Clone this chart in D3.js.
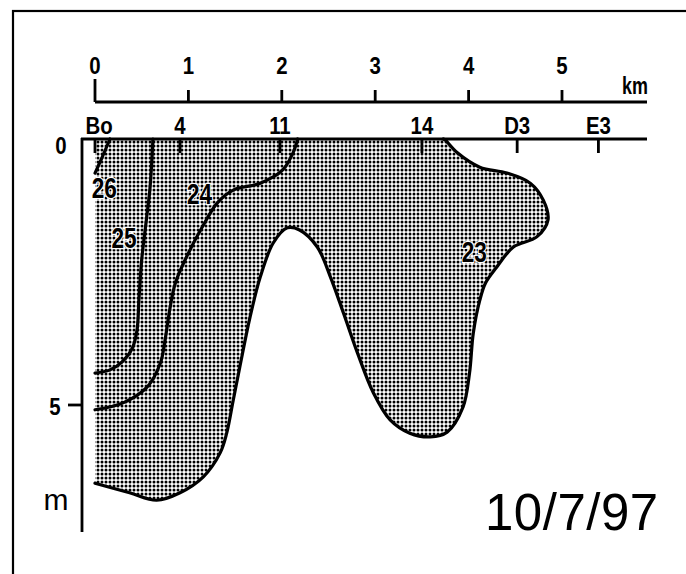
<!DOCTYPE html>
<html>
<head>
<meta charset="utf-8">
<script src="https://cdn.jsdelivr.net/npm/d3@7"></script>
<style>
  html, body { margin: 0; padding: 0; background: #fff; }
  svg { display: block; }
  text { font-family: "Liberation Sans", Arial, sans-serif; }
</style>
</head>
<body>
<div id="chart"></div>
<script>
const kmTicks = [0, 1, 2, 3, 4, 5];
const stationNames = ["Bo", "4", "11", "14", "D3", "E3"];
const stationKm = [0, 0.91, 1.98, 3.50, 4.52, 5.39];
const depthTicks = [0, 5];

// isotherms as [km, depth m]
const contour23 = [
  [0, 6.47], [0.37, 6.65], [0.66, 6.79], [0.91, 6.65], [1.16, 6.35], [1.34, 5.90],
  [1.41, 5.53], [1.48, 4.91], [1.55, 4.29], [1.66, 3.35], [1.77, 2.59], [1.91, 1.95],
  [2.06, 1.67], [2.19, 1.71], [2.38, 2.03], [2.52, 2.59], [2.66, 3.27], [2.81, 4.02],
  [2.98, 4.77], [3.16, 5.28], [3.37, 5.53], [3.59, 5.60], [3.77, 5.51], [3.94, 5.04],
  [4.01, 4.40], [4.05, 3.65], [4.12, 3.03], [4.18, 2.71], [4.30, 2.41], [4.48, 2.03],
  [4.73, 1.84], [4.85, 1.52], [4.80, 1.15], [4.66, 0.83], [4.41, 0.64], [4.12, 0.53],
  [3.88, 0.26], [3.75, 0.02], [3.73, 0]
];
const contour24 = [
  [2.17, 0], [2.12, 0.26], [2.01, 0.58], [1.77, 0.83], [1.48, 0.96], [1.31, 1.20],
  [1.15, 1.65], [0.99, 2.18], [0.86, 2.71], [0.80, 3.21], [0.75, 3.78], [0.70, 4.21],
  [0.56, 4.66], [0.30, 4.96], [0, 5.09]
];
const contour25 = [
  [0.62, 0], [0.59, 0.90], [0.55, 1.52], [0.50, 2.27], [0.47, 3.03], [0.45, 3.59],
  [0.40, 3.93], [0.29, 4.19], [0.16, 4.34], [0, 4.40]
];
const contour26 = [[0.16, 0], [0.08, 0.33], [0, 0.64]];

const contourLabels = ["26", "25", "24", "23"];
const contourLabelPos = [[0.10, 0.92], [0.31, 1.86], [1.12, 1.02], [4.06, 2.12]];

const dateLabel = "10/7/97";

const W = 686, H = 574;
const x = d3.scaleLinear().domain([0, 5]).range([95, 562]);
const y = d3.scaleLinear().domain([0, 5]).range([139, 405]);

const svg = d3.select("#chart").append("svg")
  .attr("width", W).attr("height", H);

// stipple pattern
const pat = svg.append("defs").append("pattern")
  .attr("id", "dots")
  .attr("patternUnits", "userSpaceOnUse")
  .attr("width", 4).attr("height", 4);
pat.append("circle").attr("cx", 2).attr("cy", 2).attr("r", 1.5).attr("fill", "#000");

// condensed look: squeeze the text sideways
function squeezed(sel, px, py, sx) {
  return sel.attr("transform", (d, i) => `translate(${px(d, i)},${py(d, i)}) scale(${sx},1)`);
}

// frame (runs off right and bottom)
svg.append("rect")
  .attr("x", 13).attr("y", 11).attr("width", 720).attr("height", 620)
  .attr("fill", "none").attr("stroke", "#000").attr("stroke-width", 2.2);

const line = d3.line()
  .x(d => x(d[0]))
  .y(d => y(d[1]))
  .curve(d3.curveCatmullRom.alpha(0.5));

// stippled region (warmer than 23)
svg.append("path")
  .attr("d", line(contour23) + `L${x(0)},${y(0)}Z`)
  .attr("fill", "url(#dots)")
  .attr("stroke", "none");

// isotherms
[contour23, contour24, contour25, contour26].forEach(c => {
  svg.append("path")
    .attr("d", line(c))
    .attr("fill", "none")
    .attr("stroke", "#000")
    .attr("stroke-width", 3.2)
    .attr("stroke-linecap", "round");
});

// contour labels
squeezed(svg.selectAll(".clabel")
  .data(contourLabels)
  .enter().append("text")
  .attr("text-anchor", "middle")
  .attr("dy", "0.36em")
  .attr("font-size", 29).attr("font-weight", "bold")
  .attr("stroke", "#fff").attr("stroke-width", 2.5).attr("paint-order", "stroke")
  .attr("fill", "#000")
  .text(d => d),
  (d, i) => x(contourLabelPos[i][0]), (d, i) => y(contourLabelPos[i][1]), 0.78);

// km scale
const kmY = 102;
svg.append("line")
  .attr("x1", x(0)).attr("x2", 647).attr("y1", kmY).attr("y2", kmY)
  .attr("stroke", "#000").attr("stroke-width", 2.8);
svg.selectAll(".kmtick")
  .data(kmTicks)
  .enter().append("line")
  .attr("x1", d => x(d)).attr("x2", d => x(d))
  .attr("y1", d => d === 0 ? kmY - 23 : kmY - 12).attr("y2", kmY)
  .attr("stroke", "#000").attr("stroke-width", 2.8);
squeezed(svg.selectAll(".kmlabel")
  .data(kmTicks)
  .enter().append("text")
  .attr("text-anchor", "middle")
  .attr("font-size", 24).attr("font-weight", "bold")
  .text(d => d),
  d => x(d), () => 74, 0.85);
squeezed(svg.append("text")
  .attr("font-size", 23).attr("font-weight", "bold")
  .text("km"),
  () => 622, () => 94, 0.78);

// station axis (surface)
const surfY = y(0);
svg.append("line")
  .attr("x1", 81).attr("x2", 647).attr("y1", surfY).attr("y2", surfY)
  .attr("stroke", "#000").attr("stroke-width", 2.8);
svg.selectAll(".sttick")
  .data(stationKm)
  .enter().append("line")
  .attr("x1", d => x(d)).attr("x2", d => x(d))
  .attr("y1", surfY).attr("y2", surfY + 14)
  .attr("stroke", "#000").attr("stroke-width", 2.8);
squeezed(svg.selectAll(".stlabel")
  .data(stationNames)
  .enter().append("text")
  .attr("text-anchor", "middle")
  .attr("font-size", 24).attr("font-weight", "bold")
  .text(d => d),
  (d, i) => x(stationKm[i]) + (i === 0 ? 4 : 0), () => 134, 0.85);

// depth axis
const axX = 82;
svg.append("line")
  .attr("x1", axX).attr("x2", axX).attr("y1", surfY - 1).attr("y2", 532)
  .attr("stroke", "#000").attr("stroke-width", 2.8);
svg.selectAll(".dtick")
  .data(depthTicks.filter(d => d > 0))
  .enter().append("line")
  .attr("x1", axX - 14).attr("x2", axX)
  .attr("y1", d => y(d)).attr("y2", d => y(d))
  .attr("stroke", "#000").attr("stroke-width", 2.8);
squeezed(svg.selectAll(".dlabel")
  .data(depthTicks)
  .enter().append("text")
  .attr("text-anchor", "middle")
  .attr("dy", "0.36em")
  .attr("font-size", 24).attr("font-weight", "bold")
  .text(d => d),
  d => d === 0 ? 61 : 55, d => y(d) + (d === 0 ? 6 : 1), 0.85);
svg.append("text")
  .attr("x", 56).attr("y", 510)
  .attr("text-anchor", "middle")
  .attr("font-size", 30)
  .text("m");

// date
svg.append("text")
  .attr("x", 485).attr("y", 530)
  .attr("font-size", 51)
  .attr("letter-spacing", 0.5)
  .text(dateLabel);
</script>
</body>
</html>
